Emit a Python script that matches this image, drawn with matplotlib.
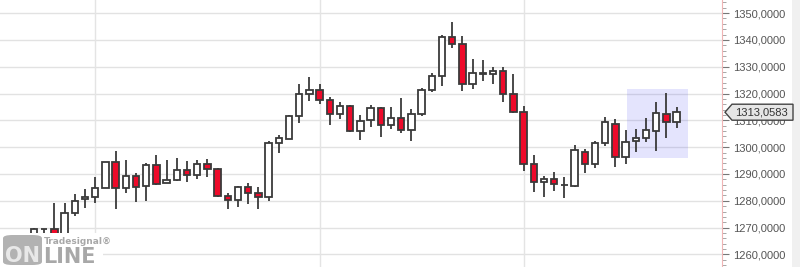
import matplotlib
matplotlib.use('Agg')
import matplotlib.pyplot as plt
from matplotlib.patches import Rectangle, Polygon, FancyBboxPatch
from matplotlib.ticker import MultipleLocator, FuncFormatter

# daily candles
opens = [1266.0, 1269.3, 1269.5, 1264.0, 1275.3, 1280.6, 1281.5, 1284.7, 1294.4, 1284.7,
         1289.3, 1285.5, 1293.4, 1286.5, 1287.6, 1291.4, 1289.5, 1293.6, 1291.9, 1281.7,
         1280.2, 1285.1, 1282.8, 1281.3, 1301.5, 1303.2, 1311.5, 1319.7, 1321.2, 1317.5,
         1312.3, 1315.4, 1306.2, 1310.1, 1314.5, 1308.3, 1310.8, 1306.3, 1312.3, 1321.2,
         1326.5, 1341.0, 1338.4, 1323.5, 1327.3, 1327.2, 1328.5, 1319.9, 1313.0, 1293.6,
         1286.9, 1288.0, 1285.8, 1285.6, 1298.1, 1293.6, 1301.5, 1308.8, 1296.2, 1302.3,
         1303.3, 1306.0, 1312.5, 1309.3]
highs = [1269.9, 1269.6, 1279.3, 1279.3, 1282.5, 1284.3, 1288.8, 1294.6, 1298.6, 1295.2,
         1290.3, 1294.0, 1297.1, 1295.2, 1296.0, 1294.9, 1295.2, 1295.6, 1292.1, 1282.8,
         1285.5, 1286.5, 1285.0, 1302.3, 1304.6, 1312.0, 1323.6, 1326.3, 1323.6, 1318.6,
         1316.8, 1315.9, 1312.0, 1315.7, 1314.9, 1314.9, 1318.2, 1314.1, 1321.9, 1327.8,
         1341.9, 1346.8, 1341.5, 1332.9, 1332.5, 1330.0, 1329.8, 1327.3, 1315.4, 1297.1,
         1289.4, 1290.9, 1289.0, 1300.8, 1299.2, 1302.4, 1311.4, 1310.5, 1306.4, 1306.8,
         1310.8, 1316.8, 1320.1, 1314.9]
lows = [1264.0, 1267.0, 1263.0, 1262.0, 1274.4, 1277.4, 1279.1, 1284.6, 1276.8, 1282.8,
        1279.4, 1280.0, 1286.0, 1286.5, 1287.5, 1286.9, 1288.0, 1288.8, 1281.3, 1276.8,
        1277.6, 1278.7, 1276.8, 1280.0, 1297.7, 1303.2, 1308.9, 1317.4, 1316.0, 1308.3,
        1310.6, 1305.8, 1302.7, 1307.6, 1303.7, 1306.7, 1305.2, 1302.4, 1311.6, 1320.5,
        1322.8, 1336.9, 1321.1, 1321.6, 1324.8, 1323.5, 1316.8, 1312.6, 1291.2, 1283.2,
        1281.3, 1283.7, 1280.9, 1285.3, 1290.5, 1292.1, 1300.4, 1292.7, 1293.7, 1298.3,
        1302.1, 1298.7, 1303.3, 1307.0]
closes = [1269.5, 1269.4, 1266.0, 1275.3, 1279.8, 1281.3, 1284.7, 1294.4, 1284.7, 1289.3,
          1285.3, 1293.4, 1286.4, 1287.6, 1291.4, 1289.6, 1293.6, 1291.8, 1281.8, 1280.2,
          1285.1, 1282.8, 1281.3, 1301.5, 1303.3, 1311.6, 1319.7, 1321.2, 1317.5, 1312.3,
          1315.4, 1306.0, 1309.9, 1314.5, 1308.3, 1310.8, 1306.4, 1312.3, 1321.2, 1326.5,
          1341.0, 1338.4, 1323.5, 1327.6, 1327.5, 1328.5, 1319.9, 1313.0, 1293.6, 1286.9,
          1288.0, 1286.2, 1286.0, 1299.0, 1293.6, 1301.5, 1309.3, 1296.2, 1302.1, 1303.3,
          1306.3, 1312.6, 1309.3, 1313.0583]
month_starts = [6, 28, 48]
last_price = 1313.0583
box_x = [58.1, 64.1]
box_y = [1295.9, 1321.6]

edge = '#3a3a3a'
red = '#ee0a2a'

fig = plt.figure(figsize=(8, 2.67), dpi=100)
fig.patch.set_facecolor('white')
ax = fig.add_axes([0, 0, 722 / 800, 1])

x = list(range(len(opens)))
ax.vlines(x, lows, highs, color=edge, lw=1.3, zorder=3)
bottoms = [min(o, c) for o, c in zip(opens, closes)]
heights = [max(abs(c - o), 0.15) for o, c in zip(opens, closes)]
colors = ['white' if c >= o else red for o, c in zip(opens, closes)]
ax.bar(x, heights, bottom=bottoms, width=0.62, color=colors, edgecolor=edge,
       linewidth=1.3, zorder=4)

ax.add_patch(Rectangle((box_x[0], box_y[0]), box_x[1] - box_x[0], box_y[1] - box_y[0],
                       facecolor=(0.2, 0.2, 0.95, 0.13), edgecolor='none', zorder=2))

for m in month_starts:
    ax.axvline(m, color='#e4e4e4', lw=1, zorder=1)

ax.set_xlim(-3.33, 67.45)
ax.set_ylim(1255.3, 1354.9)
ax.set_xticks([])
ax.yaxis.set_major_locator(MultipleLocator(10))
ax.yaxis.set_minor_locator(MultipleLocator(2))
ax.yaxis.tick_right()
ax.yaxis.set_major_formatter(FuncFormatter(lambda v, p: f'{v:.4f}'.replace('.', ',')))
ax.tick_params(axis='y', which='major', length=5, color='#777777', labelcolor='#555555',
               labelsize=8, pad=3)
ax.tick_params(axis='y', which='minor', length=3, color='#999999')
for lab in ax.get_yticklabels():
    lab.set_fontfamily('Liberation Sans')
ax.grid(axis='y', color='#e2e2e2', lw=1)
ax.set_axisbelow(True)
for s in ['top', 'left', 'bottom']:
    ax.spines[s].set_visible(False)
ax.spines['right'].set_color('#f0b4b4')

# helpers for pixel placement on the figure
fx = lambda px: px / 800
fy = lambda py: 1 - py / 267

# grey strip at the far right
fig.patches.append(Rectangle((fx(792), 0), fx(8), 1, transform=fig.transFigure,
                             facecolor='#f0f0f0', edgecolor='none', zorder=0))

# last price tag
yc = 40 + (1340 - last_price) * 2.68
tag = [(725, yc), (732, yc - 8), (793, yc - 8), (793, yc + 8), (732, yc + 8)]
fig.patches.append(Polygon([(fx(a), fy(b)) for a, b in tag], closed=True,
                           transform=fig.transFigure, facecolor='#e6e6e6',
                           edgecolor='#444444', lw=1, zorder=5))
fig.text(fx(735), fy(yc), f'{last_price:.4f}'.replace('.', ','), ha='left', va='center',
         fontsize=8, color='#333333', family='Liberation Sans', zorder=6)

# watermark
fig.patches.append(Rectangle((0, 0), fx(103), fy(233), transform=fig.transFigure,
                             facecolor='white', edgecolor='none', zorder=5))
fig.patches.append(FancyBboxPatch((fx(3), fy(265)), fx(39), fy(235) - fy(265),
                                  boxstyle='round,pad=0,rounding_size=0.012',
                                  transform=fig.transFigure, facecolor='#b2b2b2',
                                  edgecolor='none', zorder=6))
fig.text(fx(22), fy(256), 'ON', ha='center', va='center', fontsize=15, weight='bold',
         color='#e8e8e8', zorder=7)
fig.text(fx(43), fy(257), 'LINE', ha='left', va='center', fontsize=15, weight='bold',
         color='#a8a8a8', zorder=7)
fig.text(fx(44), fy(241), 'Tradesignal®', ha='left', va='center', fontsize=6.5,
         weight='bold', color='#a8a8a8', zorder=7)

plt.savefig('out.png', dpi=100)
